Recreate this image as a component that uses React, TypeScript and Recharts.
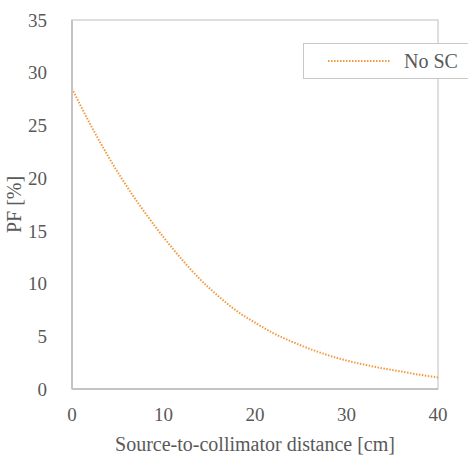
import { Line, LineChart, ReferenceArea, XAxis, YAxis } from "recharts"

const distances = [0, 2, 4, 6, 8, 10, 12, 14, 16, 18, 20, 22, 24, 26, 28, 30, 32, 34, 36, 38, 40]
const noSc = [28.5, 25.1, 22.0, 19.2, 16.7, 14.4, 12.3, 10.4, 8.8, 7.4, 6.3, 5.3, 4.5, 3.8, 3.2, 2.7, 2.3, 1.95, 1.65, 1.35, 1.1]
const xTicks = [0, 10, 20, 30, 40]
const yTicks = [0, 5, 10, 15, 20, 25, 30, 35]

const data = distances.map((d, i) => ({ d, noSc: noSc[i] }))

const FONT = "Liberation Serif"
const TEXT = "#595959"
const ORANGE = "#f29a3f"

function LegendBox() {
  return (
    <div
      style={{
        position: "absolute",
        left: 303,
        top: 43,
        width: 170,
        height: 36,
        border: "1px solid #c8c8c8",
        background: "#fff",
        display: "flex",
        alignItems: "center",
        fontFamily: FONT,
        fontSize: 20,
        color: TEXT,
        boxSizing: "border-box",
      }}
    >
      <svg width={100} height={10}>
        <line x1={24} x2={87} y1={5} y2={5} stroke={ORANGE} strokeWidth={2} strokeDasharray="1.5 1.5" />
      </svg>
      <span>No SC</span>
    </div>
  )
}

export default function App() {
  return (
    <div style={{ position: "absolute", left: 0, top: 0, width: 468, height: 457, overflow: "hidden", background: "#fff" }}>
      <LineChart width={468} height={457} data={data} margin={{ top: 20, right: 30, left: 0, bottom: 0 }}>
        <ReferenceArea x1={0} x2={40} y1={0} y2={35} fill="none" stroke="#d4d4d4" strokeWidth={1.5} />
        <XAxis
          dataKey="d"
          type="number"
          domain={[0, 40]}
          ticks={xTicks}
          height={68}
          tickLine={false}
          axisLine={{ stroke: "#c4c4c4", strokeWidth: 2 }}
          tick={{ fill: TEXT, fontSize: 19, fontFamily: FONT }}
          tickMargin={13}
          label={{
            value: "Source-to-collimator distance [cm]",
            position: "insideBottom",
            offset: 6,
            fill: TEXT,
            fontSize: 20,
            fontFamily: FONT,
          }}
        />
        <YAxis
          type="number"
          domain={[0, 35]}
          ticks={yTicks}
          width={72}
          tickLine={false}
          axisLine={{ stroke: "#c4c4c4", strokeWidth: 2 }}
          tick={{ fill: TEXT, fontSize: 19, fontFamily: FONT }}
          tickMargin={19}
          label={{
            value: "PF [%]",
            angle: -90,
            position: "insideLeft",
            offset: 14,
            fill: TEXT,
            fontSize: 20,
            fontFamily: FONT,
            style: { textAnchor: "middle" },
          }}
        />
        <Line
          type="monotone"
          dataKey="noSc"
          stroke={ORANGE}
          strokeWidth={2}
          strokeDasharray="1.5 1.5"
          dot={false}
          activeDot={false}
          isAnimationActive={false}
        />
      </LineChart>
      <LegendBox />
    </div>
  )
}
